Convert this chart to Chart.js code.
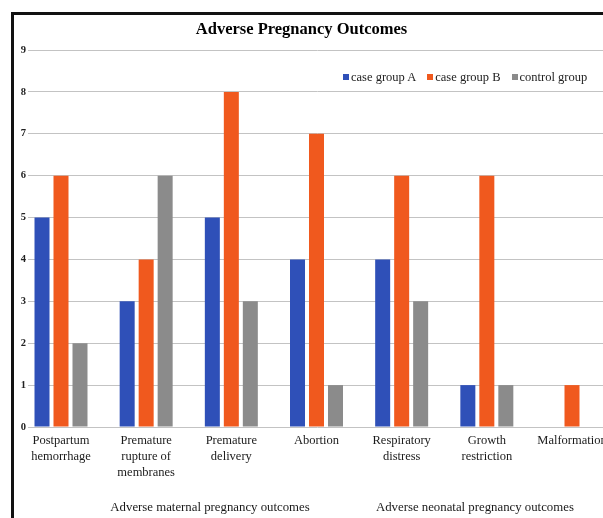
<!DOCTYPE html>
<html>
<head>
<meta charset="utf-8">
<title>Adverse Pregnancy Outcomes</title>
<script src="https://cdn.jsdelivr.net/npm/chart.js@4.4.1/dist/chart.umd.min.js"></script>
<style>
  html, body { margin: 0; padding: 0; background: #fff; overflow: hidden; }
  #wrap { position: relative; width: 603px; height: 518px; overflow: hidden; }
  #chart { position: absolute; left: 0; top: 0; }
  #frame {
    position: absolute; left: 11px; top: 12px; width: 700px; height: 600px;
    border-left: 3px solid #111; border-top: 3px solid #111; pointer-events: none;
  }
  #legend {
    position: absolute; left: 343px; top: 69px; display: flex; gap: 11px;
    font: 12.5px "Liberation Serif", "Times New Roman", serif; color: #222; line-height: 16px;
    white-space: nowrap;
  }
  #legend .item { display: flex; align-items: center; }
  #legend .box { width: 6px; height: 6px; margin-right: 2px; display: inline-block; }
</style>
</head>
<body>
<div id="wrap">
  <canvas id="chart" width="640" height="518"></canvas>
  <div id="legend"></div>
  <div id="frame"></div>
</div>
<script>
// Outcome categories (x axis), one entry per bar group
const categories = [
  ['Postpartum', 'hemorrhage'],
  ['Premature', 'rupture of', 'membranes'],
  ['Premature', 'delivery'],
  ['Abortion'],
  ['Respiratory', 'distress'],
  ['Growth', 'restriction'],
  ['Malformation']
];

// Case counts per outcome
const caseGroupA   = [5, 3, 5, 4, 4, 1, 0];
const caseGroupB   = [6, 4, 8, 7, 6, 6, 1];
const controlGroup = [2, 6, 3, 1, 3, 1, 0];

const seriesNames = ['case group A', 'case group B', 'control group'];
const seriesColors = ['#2f50b8', '#f0591e', '#8b8b8b'];

// Value axis ticks
const yTicks = [0, 1, 2, 3, 4, 5, 6, 7, 8, 9];

// Outcome families shown under the category labels
const outcomeFamilies = ['Adverse maternal pregnancy outcomes', 'Adverse neonatal pregnancy outcomes'];

const serif = '"Liberation Serif", "Times New Roman", serif';
const familyCentres = [1.75, 4.86];   // label anchors in category units
const xMin = -0.3405, xMax = 6.364;

const toPoints = arr => arr.map((v, i) => ({ x: i, y: v }));

const datasets = [caseGroupA, caseGroupB, controlGroup].map((arr, k) => ({
  label: seriesNames[k],
  data: toPoints(arr),
  backgroundColor: seriesColors[k],
  borderWidth: 0,
  categoryPercentage: 0.669,
  barPercentage: 0.79
}));

const chart = new Chart(document.getElementById('chart'), {
  type: 'bar',
  data: { datasets },
  options: {
    responsive: false,
    animation: false,
    layout: { padding: { top: 20, right: 37, left: 0, bottom: 0 } },
    plugins: {
      legend: { display: false },
      tooltip: { enabled: false },
      title: {
        display: true,
        text: 'Adverse Pregnancy Outcomes',
        color: '#000',
        font: { family: serif, size: 16.5, weight: 'bold' },
        padding: { top: 0, bottom: 10.2 }
      }
    },
    scales: {
      x: {
        type: 'linear',
        offset: false,
        min: xMin,
        max: xMax,
        grid: { display: false, drawTicks: false },
        border: { display: false },
        afterBuildTicks: s => { s.ticks = categories.map((_, i) => ({ value: i })); },
        ticks: {
          autoSkip: false,
          maxRotation: 0,
          padding: 6,
          color: '#1a1a1a',
          font: { family: serif, size: 12.5, lineHeight: '16px' },
          callback: v => categories[Math.round(v)]
        }
      },
      x2: {
        type: 'linear',
        position: 'bottom',
        offset: false,
        min: xMin,
        max: xMax,
        grid: { display: false, drawTicks: false },
        border: { display: false },
        afterBuildTicks: s => { s.ticks = familyCentres.map(v => ({ value: v })); },
        afterFit: s => { s.height = 31; },
        ticks: {
          autoSkip: false,
          maxRotation: 0,
          padding: 13,
          color: '#1a1a1a',
          font: { family: serif, size: 12.8, lineHeight: '16px' },
          callback: (v, i) => outcomeFamilies[i]
        }
      },
      y: {
        min: yTicks[0],
        max: yTicks[yTicks.length - 1],
        afterBuildTicks: s => { s.ticks = yTicks.map(v => ({ value: v })); },
        afterFit: s => { s.width = 32; },
        grid: { color: '#c3c3c3', lineWidth: 1, tickLength: 4 },
        border: { display: false },
        ticks: {
          padding: 2,
          color: '#222',
          font: { family: serif, size: 10.5, weight: 'bold' }
        }
      }
    }
  }
});

// Legend row built from the chart's datasets
const legendEl = document.getElementById('legend');
chart.data.datasets.forEach(ds => {
  const item = document.createElement('span');
  item.className = 'item';
  const box = document.createElement('span');
  box.className = 'box';
  box.style.background = ds.backgroundColor;
  const txt = document.createElement('span');
  txt.textContent = ds.label;
  item.appendChild(box);
  item.appendChild(txt);
  legendEl.appendChild(item);
});
</script>
</body>
</html>
